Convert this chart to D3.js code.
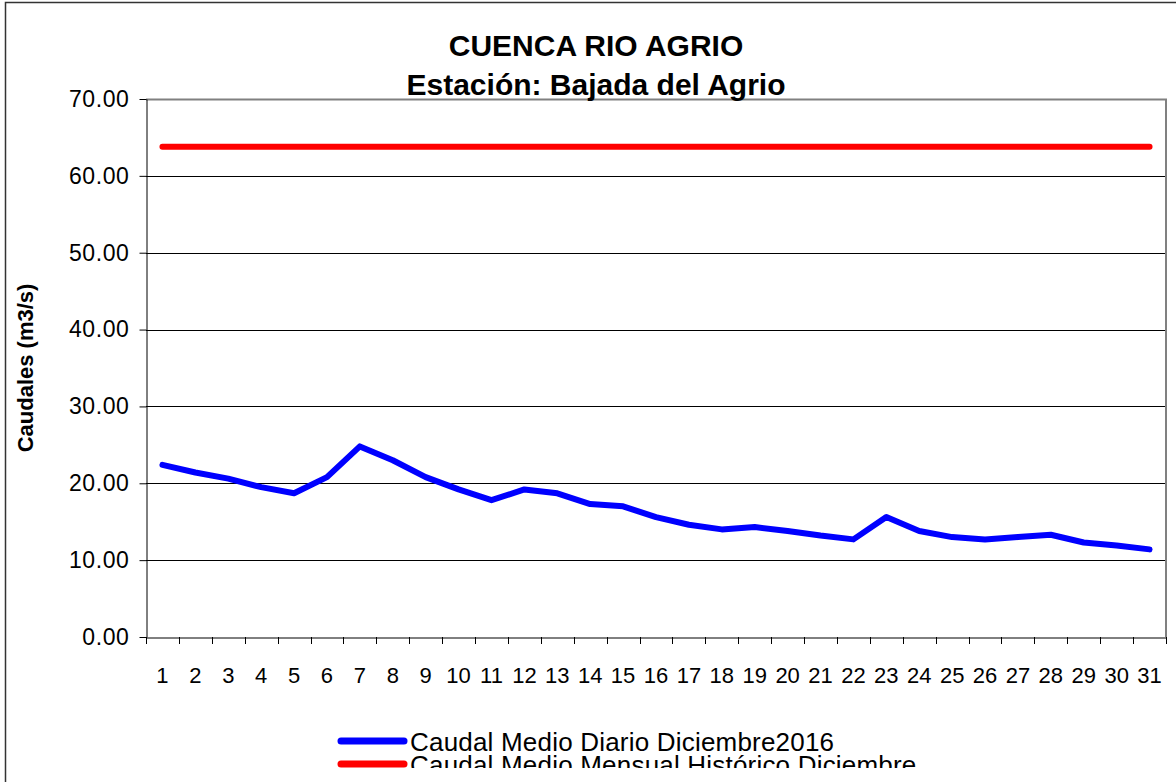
<!DOCTYPE html>
<html lang="es">
<head>
    <meta charset="UTF-8">
    <title>Cuenca Rio Agrio - Bajada del Agrio</title>
    <script src="https://d3js.org/d3.v7.min.js"></script>
    <style>
        body { margin: 0; background: #fff; }
        svg { font-family: "Liberation Sans", Arial, sans-serif; display: block; }
    </style>
</head>
<body>
<div id="chart"></div>
<script>
    // datos
    var dias = d3.range(1, 32);
    var caudalDiario = [22.4, 21.4, 20.6, 19.5, 18.7, 20.8, 24.8, 23.0, 20.8, 19.2,
                        17.8, 19.2, 18.7, 17.3, 17.0, 15.6, 14.6, 14.0, 14.3, 13.8,
                        13.2, 12.7, 15.6, 13.8, 13.0, 12.7, 13.0, 13.3, 12.3, 11.9, 11.4];
    var caudalHistorico = dias.map(function() { return 63.8; });
    var yTicks = [0, 10, 20, 30, 40, 50, 60, 70];
    var series = ['Caudal Medio Diario Diciembre2016', 'Caudal Medio Mensual Histórico Diciembre'];
    var colores = ['#0000ff', '#ff0000'];

    var W = 1176, H = 782;
    var margin = {top: 99, right: 10, bottom: 145, left: 146};

    var svg = d3.select('#chart').append('svg')
        .attr('width', W)
        .attr('height', H);

    // la leyenda aparece cortada abajo en el original
    svg.append('clipPath').attr('id', 'corte')
        .append('rect').attr('x', 0).attr('y', 0).attr('width', W).attr('height', 768);

    // marco exterior del grafico
    svg.append('rect')
        .attr('x', 5.5).attr('y', 2.5)
        .attr('width', 1200).attr('height', 800)
        .attr('fill', 'none')
        .attr('stroke', '#333')
        .attr('stroke-width', 1.5);

    var x = d3.scaleBand().domain(dias).range([margin.left, W - margin.right]).padding(0);
    var y = d3.scaleLinear().domain([0, 70]).range([H - margin.bottom, margin.top]);

    // lineas de grilla
    svg.append('g')
        .selectAll('line')
        .data(yTicks.filter(function(d) { return d > 0 && d < 70; }))
        .enter().append('line')
        .attr('x1', margin.left).attr('x2', W - margin.right)
        .attr('y1', function(d) { return Math.round(y(d)) + 0.5; })
        .attr('y2', function(d) { return Math.round(y(d)) + 0.5; })
        .attr('stroke', '#000')
        .attr('stroke-width', 1);

    // borde superior y derecho (gris)
    svg.append('path')
        .attr('d', 'M' + margin.left + ',' + (y(70) + 0.5) + 'H' + (W - margin.right) + 'V' + y(0))
        .attr('fill', 'none')
        .attr('stroke', '#808080')
        .attr('stroke-width', 2);

    // eje Y
    var yAxis = svg.append('g')
        .attr('transform', 'translate(' + (margin.left + 0.5) + ',0)')
        .call(d3.axisLeft(y).tickValues(yTicks).tickSize(7).tickSizeOuter(0).tickPadding(10)
            .tickFormat(d3.format('.2f')));
    yAxis.selectAll('text')
        .attr('font-size', 23)
        .attr('letter-spacing', 0.6)
        .attr('fill', '#000')
        .attr('font-family', '"Liberation Sans", Arial, sans-serif');
    yAxis.select('.domain').attr('stroke', '#000');

    // eje X: marcas en los limites de cada dia
    var xAxis = svg.append('g')
        .attr('transform', 'translate(0,' + (y(0) + 0.5) + ')')
        .call(d3.axisBottom(x).tickSize(0).tickPadding(30));
    xAxis.selectAll('text')
        .attr('font-size', 22)
        .attr('fill', '#000')
        .attr('font-family', '"Liberation Sans", Arial, sans-serif');
    xAxis.select('.domain').attr('stroke', '#000');

    svg.append('g')
        .selectAll('line')
        .data(dias.concat([null]))
        .enter().append('line')
        .attr('x1', function(d) { return Math.round(d === null ? x.range()[1] : x(d)) + 0.5; })
        .attr('x2', function(d) { return Math.round(d === null ? x.range()[1] : x(d)) + 0.5; })
        .attr('y1', y(0))
        .attr('y2', y(0) + 7)
        .attr('stroke', '#000');

    // series
    var line = d3.line()
        .x(function(d, i) { return x(dias[i]) + x.bandwidth() / 2; })
        .y(function(d) { return y(d); });

    svg.append('path')
        .datum(caudalHistorico)
        .attr('fill', 'none')
        .attr('stroke', colores[1])
        .attr('stroke-width', 6)
        .attr('stroke-linecap', 'round')
        .attr('stroke-linejoin', 'round')
        .attr('d', line);

    svg.append('path')
        .datum(caudalDiario)
        .attr('fill', 'none')
        .attr('stroke', colores[0])
        .attr('stroke-width', 6)
        .attr('stroke-linecap', 'round')
        .attr('stroke-linejoin', 'round')
        .attr('d', line);

    // titulo
    var title = svg.append('text')
        .attr('text-anchor', 'middle')
        .attr('font-weight', 'bold')
        .attr('font-size', 30)
        .attr('fill', '#000');
    title.append('tspan').attr('x', 596).attr('y', 56).text('CUENCA RIO AGRIO');
    title.append('tspan').attr('x', 596).attr('y', 95).text('Estación: Bajada del Agrio');

    // titulo eje Y
    svg.append('text')
        .attr('transform', 'translate(33,' + ((y(0) + y(70)) / 2) + ') rotate(-90)')
        .attr('text-anchor', 'middle')
        .attr('font-weight', 'bold')
        .attr('font-size', 22)
        .attr('fill', '#000')
        .text('Caudales (m3/s)');

    // leyenda
    var legend = svg.append('g')
        .attr('clip-path', 'url(#corte)')
        .selectAll('g')
        .data(series)
        .enter().append('g')
        .attr('transform', function(d, i) { return 'translate(338,' + (741 + i * 23) + ')'; });
    legend.append('line')
        .attr('x1', 3).attr('x2', 66)
        .attr('stroke', function(d, i) { return colores[i]; })
        .attr('stroke-width', 7)
        .attr('stroke-linecap', 'round');
    legend.append('text')
        .attr('x', 72)
        .attr('y', 10)
        .attr('font-size', 26)
        .attr('letter-spacing', 0.2)
        .attr('fill', '#000')
        .text(function(d) { return d; });
</script>
</body>
</html>
